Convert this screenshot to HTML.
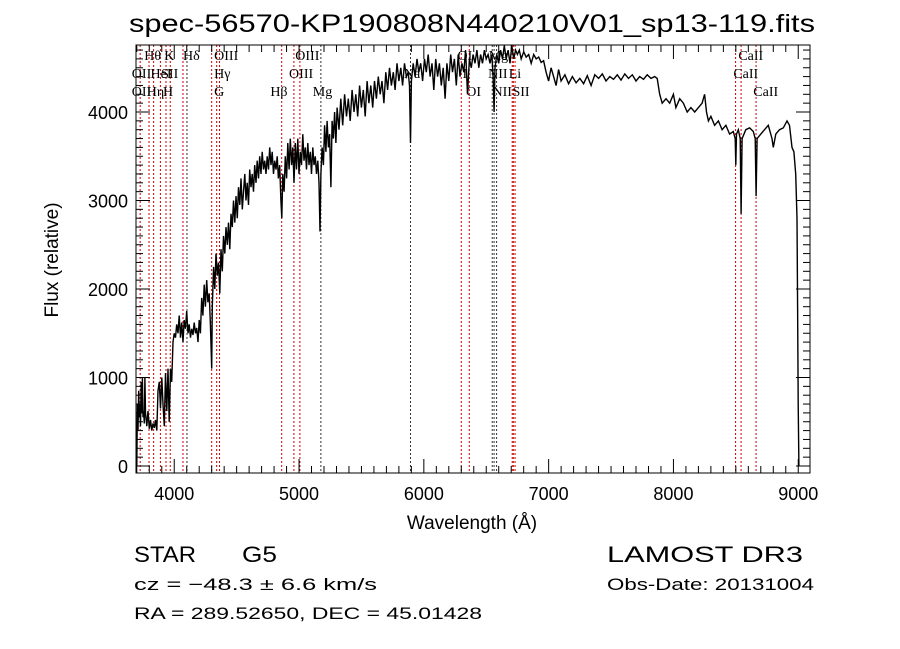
<!DOCTYPE html>
<html><head><meta charset="utf-8"><style>
body{margin:0;background:#fff;}
svg{display:block;}
text{font-family:"Liberation Sans",sans-serif;}
.ln{font-family:"Liberation Serif",serif;font-size:14px;}
</style></head><body>
<svg id="chart" width="900" height="649" xmlns="http://www.w3.org/2000/svg">
<rect width="900" height="649" fill="#fff"/>
<text x="472" y="32" text-anchor="middle" font-size="25" textLength="686" lengthAdjust="spacingAndGlyphs">spec-56570-KP190808N440210V01_sp13-119.fits</text>
<g id="lines"></g>
<g id="labels"></g>
<path id="spec" fill="none" stroke="#000" stroke-width="1.4"/>
<rect x="136" y="45" width="674" height="428" fill="none" stroke="#000" stroke-width="1"/>
<g id="ticks"></g>
<text x="472" y="529" text-anchor="middle" font-size="19">Wavelength (Å)</text>
<text transform="translate(58,260) rotate(-90)" text-anchor="middle" font-size="19">Flux (relative)</text>
<text x="134" y="562" font-size="22" textLength="62" lengthAdjust="spacingAndGlyphs">STAR</text>
<text x="242" y="562" font-size="22" textLength="35" lengthAdjust="spacingAndGlyphs">G5</text>
<text x="134" y="590" font-size="17" textLength="243" lengthAdjust="spacingAndGlyphs">cz = −48.3 ± 6.6 km/s</text>
<text x="134" y="619" font-size="17" textLength="348" lengthAdjust="spacingAndGlyphs">RA = 289.52650, DEC =  45.01428</text>
<text x="607" y="562" font-size="22" textLength="196" lengthAdjust="spacingAndGlyphs">LAMOST DR3</text>
<text x="607" y="590" font-size="17" textLength="207" lengthAdjust="spacingAndGlyphs">Obs-Date: 20131004</text>
</svg>
<script>
const waves=[3700,3705,3710,3715,3720,3725,3730,3735,3740,3745,3750,3755,3760,3765,3770,3775,3780,3790,3800,3810,3820,3830,3840,3850,3860,3870,3880,3890,3900,3910,3920,3930,3940,3950,3960,3970,3980,3990,4000,4010,4020,4030,4040,4050,4060,4070,4080,4090,4100,4110,4120,4130,4140,4150,4160,4170,4180,4190,4200,4210,4220,4230,4240,4250,4260,4270,4280,4290,4300,4305,4315,4325,4335,4345,4355,4365,4375,4385,4395,4405,4415,4425,4435,4445,4455,4465,4475,4485,4495,4505,4515,4525,4535,4545,4555,4565,4575,4585,4595,4605,4615,4625,4635,4645,4655,4665,4675,4685,4695,4705,4715,4725,4735,4745,4755,4765,4775,4785,4795,4805,4815,4825,4835,4845,4855,4862,4870,4880,4890,4900,4910,4920,4930,4940,4950,4960,4970,4980,4990,5000,5010,5020,5030,5040,5050,5060,5070,5080,5090,5100,5110,5120,5130,5140,5150,5160,5168,5175,5185,5195,5205,5215,5225,5235,5245,5255,5265,5275,5285,5295,5305,5320,5335,5350,5365,5380,5395,5410,5425,5440,5455,5470,5485,5500,5515,5530,5545,5560,5575,5590,5605,5620,5635,5650,5665,5680,5695,5710,5725,5740,5755,5770,5785,5800,5815,5830,5845,5860,5875,5885,5893,5900,5915,5930,5945,5960,5975,5990,6005,6020,6035,6050,6065,6080,6095,6110,6125,6140,6155,6170,6185,6200,6215,6230,6245,6260,6275,6290,6305,6320,6335,6350,6365,6380,6395,6410,6425,6440,6455,6470,6485,6500,6515,6530,6545,6555,6563,6570,6585,6600,6615,6630,6645,6660,6675,6690,6705,6720,6735,6750,6765,6780,6800,6820,6840,6860,6880,6900,6920,6940,6960,6980,7000,7020,7040,7060,7080,7100,7130,7160,7190,7220,7250,7280,7310,7340,7370,7400,7430,7460,7490,7520,7550,7580,7610,7640,7670,7700,7730,7760,7790,7820,7850,7870,7890,7910,7940,7970,8000,8020,8050,8080,8110,8140,8170,8200,8230,8250,8265,8280,8300,8330,8360,8390,8420,8450,8480,8495,8500,8505,8520,8535,8542,8550,8580,8610,8640,8655,8662,8670,8700,8730,8760,8790,8800,8820,8850,8880,8910,8930,8950,8965,8980,8990,8995,9000,9005];
const flux=[0,700,400,850,550,700,450,950,600,1000,550,620,480,1000,600,520,450,620,420,520,400,480,430,520,400,850,950,650,1000,700,450,1050,620,1100,500,1100,950,1400,1500,1450,1600,1500,1700,1450,1620,1400,1650,1550,1750,1500,1600,1450,1550,1480,1620,1500,1560,1400,1650,1500,1900,1700,2050,1800,2100,1850,1950,1600,1100,1800,2250,2000,2400,2150,2300,1950,2450,2200,2600,2400,2700,2500,2750,2450,2850,2700,3000,2750,3050,2800,3150,2950,3250,2900,3100,3300,3000,3200,2950,3350,3150,3300,3100,3400,3200,3450,3250,3500,3300,3550,3350,3450,3300,3500,3350,3600,3400,3550,3300,3450,3350,3500,3250,3400,3000,2800,3300,3100,3500,3250,3650,3350,3700,3400,3600,3200,3650,3350,3700,3300,3550,3400,3750,3450,3600,3350,3650,3400,3550,3300,3600,3400,3500,3300,3450,3200,2650,3300,3600,3400,3850,3550,3900,3600,3750,3150,3900,3700,4000,3650,4050,3800,4150,3850,4200,3950,4150,3900,4250,4000,4200,3950,4300,4050,4250,3950,4350,4100,4300,4050,4350,4150,4400,4200,4350,4100,4450,4250,4500,4300,4450,4250,4550,4350,4500,4300,4550,4400,4450,4300,3650,4350,4550,4400,4600,4450,4550,4350,4600,4450,4650,4400,4550,4250,4600,4400,4550,4300,4500,4150,4550,4350,4650,4450,4600,4300,4650,4400,4550,4450,4700,4200,4600,4500,4650,4550,4700,4500,4650,4550,4700,4600,4650,4550,4650,4400,4000,4500,4650,4550,4700,4600,4750,4600,4700,4550,4750,4600,4700,4650,4700,4600,4680,4620,4650,4550,4650,4600,4620,4560,4580,4450,4350,4500,4400,4300,4480,4350,4420,4320,4400,4330,4380,4320,4410,4300,4420,4380,4430,4350,4400,4370,4420,4360,4430,4380,4420,4350,4400,4370,4420,4380,4400,4380,4200,4100,4150,4100,4200,4050,4150,4100,4000,4050,4000,4050,4100,4200,4000,3900,3950,3850,3900,3800,3850,3750,3780,3700,3400,3750,3800,3700,2850,3700,3800,3820,3780,3700,3050,3700,3750,3800,3850,3700,3600,3750,3800,3820,3900,3850,3600,3550,3300,2800,1800,700,0];
const lineWaves=[3727,3798,3835,3889,3934,3968,4070,4102,4300,4340,4363,4861,4959,5007,5175,5893,6300,6364,6548,6563,6583,6708,6717,6731,8498,8542,8662];
const lineBlack=[0,0,0,0,0,0,0,1,0,0,0,0,0,0,1,1,0,0,1,1,1,0,0,0,0,0,0];
const labelText=["Hθ","K","Hδ","OIII","OIII","OI","Mg","CaII","OII","HeI","SII","Hγ","OIII","Na","I","NII","Li","CaII","OII","Hη","H","G","Hβ","Mg","OI","NII","SII","CaII"];
const labelWave=[3800,3960,4110,4360,5010,6310,6560,8560,3700,3850,3935,4360,4960,5880,6350,6555,6720,8520,3700,3820,3950,4360,4810,5150,6380,6590,6750,8680];
const labelRow=[0,0,0,0,0,0,0,0,1,1,1,1,1,1,1,1,1,1,2,2,2,2,2,2,2,2,2,2];
const yTickLabels=["0","1000","2000","3000","4000"];
const xTickLabels=["4000","5000","6000","7000","8000","9000"];
const NS="http://www.w3.org/2000/svg";
const X0=136,X1=810,Y0=45,Y1=473;
function xs(w){return 136.8+(w-3700)*0.1248;}
function ys(f){return 466-f*0.0885;}
function mk(t,a,p){const e=document.createElementNS(NS,t);for(const k in a)e.setAttribute(k,a[k]);p.appendChild(e);return e;}
const gl=document.getElementById('lines');
lineWaves.forEach((w,i)=>{const x=xs(w);
 const l=mk('line',{x1:x,x2:x,y1:Y0,y2:Y1,stroke:lineBlack[i]?'#333':'#c00','stroke-width':1,'stroke-dasharray':'2,2'},gl);
 
 });
const glb=document.getElementById('labels');
labelText.forEach((t,i)=>{const e=mk('text',{x:xs(labelWave[i])-5,y:60+labelRow[i]*18,'class':'ln'},glb);e.textContent=t;
 
 });
let d='';waves.forEach((w,i)=>{d+=(i?'L':'M')+xs(w).toFixed(1)+','+ys(flux[i]).toFixed(1);});
document.getElementById('spec').setAttribute('d',d);
const gt=document.getElementById('ticks');
for(let f=0;f<=5000;f+=100){const y=ys(f);if(y<Y0)break;const maj=f%1000==0;const L=maj?14:7;
 mk('line',{x1:X0,x2:X0+L,y1:y,y2:y,stroke:'#000'},gt);mk('line',{x1:X1,x2:X1-L,y1:y,y2:y,stroke:'#000'},gt);}
for(let w=3700;w<=9100;w+=100){const x=xs(w);if(x>X1)break;const maj=w%1000==0;const L=maj?14:7;
 mk('line',{x1:x,x2:x,y1:Y1,y2:Y1-L,stroke:'#000'},gt);mk('line',{x1:x,x2:x,y1:Y0,y2:Y0+L,stroke:'#000'},gt);}
yTickLabels.forEach(s=>{const e=mk('text',{x:128,y:ys(+s)+7,'text-anchor':'end','font-size':18},gt);e.textContent=s;
 
 });
xTickLabels.forEach(s=>{const e=mk('text',{x:xs(+s),y:500,'text-anchor':'middle','font-size':18},gt);e.textContent=s;
 
 });
</script>
</body></html>
